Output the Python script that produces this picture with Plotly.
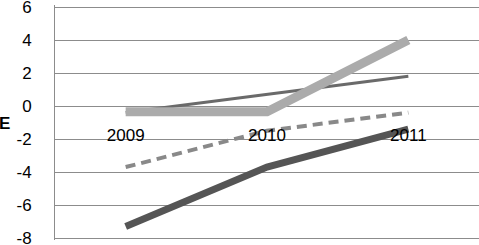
import plotly.graph_objects as go

years = ["2009", "2010", "2011"]
series_dark_thick = [-7.3, -3.7, -1.4]
series_dashed = [-3.7, -1.5, -0.4]
series_thin = [-0.4, 0.7, 1.8]
series_light = [-0.35, -0.35, 4.0]
y_ticks = [-8, -6, -4, -2, 0, 2, 4, 6]
y_tick_text = ["-8", "-6", "-4", "-2", "0", "2", "4", "6"]

# plot area: 5..240 px vertically, 6 -> 7px, -8 -> 238px
top, bottom = 5, 240
ppu = (238 - 7) / 14.0
y_range = [-8 - (bottom - 238) / ppu, 6 + (7 - top) / ppu]
H = bottom - top

fig = go.Figure()
fig.add_trace(go.Scatter(x=years, y=series_dark_thick, mode="lines",
                         line=dict(color="#555555", width=7)))
fig.add_trace(go.Scatter(x=years, y=series_dashed, mode="lines",
                         line=dict(color="#898989", width=4, dash="10px,6px")))
fig.add_trace(go.Scatter(x=years, y=series_thin, mode="lines",
                         line=dict(color="#6a6a6a", width=3)))
fig.add_trace(go.Scatter(x=years, y=series_light, mode="lines",
                         line=dict(color="#ababab", width=9)))

fig.update_layout(
    width=479, height=245,
    margin=dict(l=55, r=0, t=top, b=245 - bottom),
    paper_bgcolor="white", plot_bgcolor="white",
    showlegend=False,
    font=dict(family="Liberation Sans", size=17, color="black"),
    xaxis=dict(
        type="category", range=[-0.5, 2.5], automargin=False,
        anchor="free", position=(bottom - 106) / H,
        showgrid=False, zeroline=False, showline=False,
        ticks="outside", ticklen=14, tickcolor="rgba(0,0,0,0)",
        tickfont=dict(size=17, color="black"),
    ),
    yaxis=dict(
        range=y_range, tickvals=y_ticks, ticktext=y_tick_text,
        automargin=False, ticklabeloverflow="allow",
        showgrid=True, gridcolor="#8c8c8c",
        gridwidth=1, zeroline=False, showline=True, linecolor="#8c8c8c",
        linewidth=1, ticks="", ticklabelstandoff=19,
        tickfont=dict(size=17, color="black"),
    ),
    annotations=[dict(text="<b>E</b>", x=(4 - 55) / 424, y=(bottom - 124) / H,
                      xref="paper", yref="paper", xanchor="center", yanchor="middle",
                      showarrow=False, font=dict(size=17, color="black"))],
)

fig.write_html("out.html", config={"displayModeBar": False},
               post_script="document.body.style.margin='0';document.body.style.overflow='hidden';")
